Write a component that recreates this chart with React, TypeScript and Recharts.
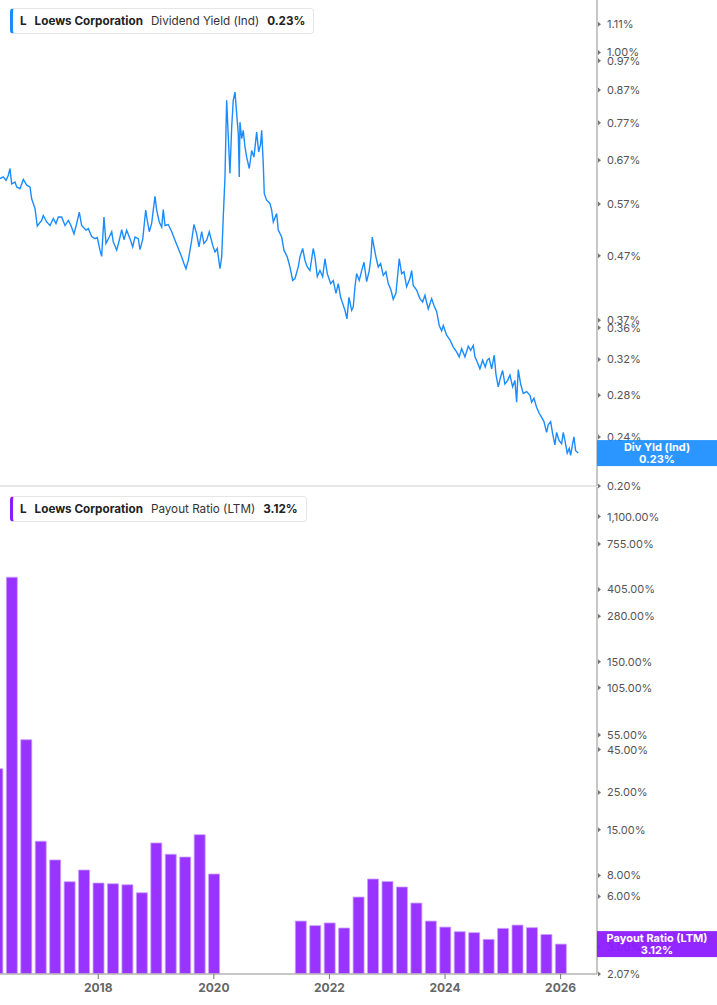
import React from 'react';
import { LineChart, Line, BarChart, Bar, XAxis, YAxis, ReferenceLine } from 'recharts';

// Dividend yield (Ind), % — decimal year / value pairs
const yieldDates = [
  2016.300, 2016.357, 2016.404, 2016.444, 2016.473, 2016.502, 2016.560, 2016.589, 2016.646, 2016.703,
  2016.762, 2016.819, 2016.848, 2016.906, 2016.945, 2017.021, 2017.049, 2017.108, 2017.165, 2017.222,
  2017.269, 2017.309, 2017.367, 2017.425, 2017.482, 2017.528, 2017.580, 2017.627, 2017.672, 2017.713,
  2017.788, 2017.828, 2017.887, 2017.944, 2017.983, 2018.030, 2018.059, 2018.099, 2018.134, 2018.191,
  2018.233, 2018.260, 2018.319, 2018.364, 2018.406, 2018.445, 2018.492, 2018.549, 2018.596, 2018.636,
  2018.693, 2018.722, 2018.769, 2018.821, 2018.848, 2018.883, 2018.924, 2018.952, 2018.982, 2019.011,
  2019.056, 2019.098, 2019.125, 2019.155, 2019.212, 2019.271, 2019.328, 2019.385, 2019.444, 2019.483,
  2019.518, 2019.558, 2019.617, 2019.656, 2019.703, 2019.743, 2019.790, 2019.829, 2019.876, 2019.921,
  2019.980, 2020.020, 2020.059, 2020.106, 2020.136, 2020.163, 2020.193, 2020.210, 2020.222, 2020.250,
  2020.279, 2020.309, 2020.336, 2020.366, 2020.395, 2020.423, 2020.440, 2020.452, 2020.482, 2020.509,
  2020.539, 2020.568, 2020.613, 2020.655, 2020.694, 2020.741, 2020.776, 2020.810, 2020.828, 2020.855,
  2020.873, 2020.914, 2020.971, 2021.001, 2021.029, 2021.087, 2021.115, 2021.174, 2021.213, 2021.271,
  2021.317, 2021.364, 2021.404, 2021.461, 2021.490, 2021.537, 2021.577, 2021.617, 2021.663, 2021.720,
  2021.750, 2021.790, 2021.836, 2021.883, 2021.923, 2021.963, 2022.021, 2022.067, 2022.113, 2022.153,
  2022.194, 2022.229, 2022.269, 2022.303, 2022.338, 2022.385, 2022.413, 2022.442, 2022.471, 2022.516,
  2022.558, 2022.598, 2022.644, 2022.689, 2022.719, 2022.741, 2022.771, 2022.805, 2022.845, 2022.886,
  2022.931, 2022.978, 2023.018, 2023.065, 2023.104, 2023.151, 2023.208, 2023.250, 2023.290, 2023.336,
  2023.393, 2023.423, 2023.450, 2023.509, 2023.566, 2023.613, 2023.653, 2023.710, 2023.769, 2023.809,
  2023.856, 2023.900, 2023.942, 2023.970, 2024.028, 2024.085, 2024.143, 2024.201, 2024.246, 2024.288,
  2024.345, 2024.402, 2024.444, 2024.489, 2024.518, 2024.558, 2024.604, 2024.651, 2024.696, 2024.731,
  2024.765, 2024.807, 2024.852, 2024.881, 2024.921, 2024.963, 2024.997, 2025.037, 2025.084, 2025.124,
  2025.170, 2025.210, 2025.239, 2025.267, 2025.309, 2025.354, 2025.413, 2025.470, 2025.499, 2025.539,
  2025.585, 2025.630, 2025.672, 2025.712, 2025.758, 2025.786, 2025.828, 2025.862, 2025.902, 2025.931,
  2025.971, 2026.018, 2026.046, 2026.075, 2026.115, 2026.150, 2026.174, 2026.208, 2026.231, 2026.260,
  2026.306,
];

const yieldValues = [
  0.626, 0.630, 0.622, 0.634, 0.650, 0.614, 0.618, 0.607, 0.603, 0.624,
  0.611, 0.607, 0.581, 0.560, 0.525, 0.536, 0.546, 0.533, 0.526, 0.540,
  0.530, 0.543, 0.543, 0.526, 0.536, 0.526, 0.510, 0.530, 0.553, 0.526,
  0.517, 0.520, 0.505, 0.501, 0.503, 0.480, 0.469, 0.543, 0.492, 0.504,
  0.514, 0.495, 0.480, 0.498, 0.518, 0.499, 0.517, 0.501, 0.486, 0.504,
  0.501, 0.481, 0.499, 0.557, 0.536, 0.514, 0.530, 0.557, 0.586, 0.557,
  0.533, 0.523, 0.558, 0.526, 0.528, 0.514, 0.498, 0.483, 0.468, 0.457,
  0.448, 0.462, 0.498, 0.528, 0.510, 0.486, 0.514, 0.492, 0.498, 0.514,
  0.489, 0.477, 0.483, 0.448, 0.468, 0.543, 0.630, 0.749, 0.837, 0.731,
  0.638, 0.758, 0.837, 0.863, 0.797, 0.740, 0.630, 0.772, 0.726, 0.749,
  0.704, 0.678, 0.650, 0.695, 0.678, 0.744, 0.691, 0.713, 0.749, 0.662,
  0.592, 0.578, 0.571, 0.557, 0.533, 0.550, 0.517, 0.504, 0.480, 0.468,
  0.451, 0.429, 0.432, 0.451, 0.468, 0.483, 0.462, 0.451, 0.445, 0.483,
  0.468, 0.435, 0.445, 0.435, 0.465, 0.440, 0.424, 0.429, 0.409, 0.424,
  0.403, 0.394, 0.384, 0.372, 0.403, 0.384, 0.389, 0.419, 0.440, 0.429,
  0.445, 0.459, 0.427, 0.445, 0.468, 0.504, 0.486, 0.468, 0.451, 0.457,
  0.437, 0.443, 0.424, 0.414, 0.400, 0.409, 0.465, 0.440, 0.443, 0.419,
  0.432, 0.445, 0.421, 0.414, 0.401, 0.396, 0.406, 0.386, 0.401, 0.391,
  0.382, 0.363, 0.356, 0.363, 0.350, 0.344, 0.335, 0.329, 0.323, 0.333,
  0.323, 0.336, 0.331, 0.337, 0.323, 0.317, 0.309, 0.319, 0.311, 0.319,
  0.321, 0.309, 0.325, 0.303, 0.289, 0.300, 0.307, 0.292, 0.296, 0.302,
  0.289, 0.296, 0.273, 0.308, 0.292, 0.282, 0.284, 0.280, 0.273, 0.277,
  0.268, 0.262, 0.258, 0.254, 0.244, 0.251, 0.254, 0.243, 0.233, 0.244,
  0.237, 0.234, 0.244, 0.237, 0.226, 0.230, 0.224, 0.234, 0.240, 0.228,
  0.226,
];

// Payout ratio (LTM), % — quarterly
const payoutQuarters = [
  '2016Q1', '2016Q2', '2016Q3', '2016Q4', '2017Q1', '2017Q2', '2017Q3', '2017Q4',
  '2018Q1', '2018Q2', '2018Q3', '2018Q4', '2019Q1', '2019Q2', '2019Q3', '2019Q4',
  '2021Q2', '2021Q3', '2021Q4', '2022Q1', '2022Q2', '2022Q3', '2022Q4', '2023Q1',
  '2023Q2', '2023Q3', '2023Q4', '2024Q1', '2024Q2', '2024Q3', '2024Q4', '2025Q1',
  '2025Q2', '2025Q3', '2025Q4',
];
const payoutValues = [
  34.6, 479, 51.5, 12.8, 9.9, 7.34, 8.62, 7.21,
  7.14, 7.04, 6.31, 12.5, 10.7, 10.3, 14.0, 8.16,
  4.28, 4.02, 4.17, 3.89, 5.95, 7.62, 7.37, 6.83,
  5.48, 4.28, 3.94, 3.70, 3.65, 3.33, 3.87, 4.05,
  3.91, 3.56, 3.12,
];

const yieldTicks = [0.2, 0.24, 0.28, 0.32, 0.36, 0.37, 0.47, 0.57, 0.67, 0.77, 0.87, 0.97, 1.0, 1.11];
const payoutTicks = [2.07, 3, 6, 8, 15, 25, 45, 55, 105, 150, 280, 405, 755, 1100];
const yearTicks = [2018, 2020, 2022, 2024, 2026];

const xDomain: [number, number] = [2016.3, 2026.63];
const yieldDomain: [number, number] = [0.2, 1.215];
const payoutDomain: [number, number] = [2.07, 1650];

const yieldData = yieldDates.map((t, i) => ({ t, v: yieldValues[i] }));
const payoutData = payoutQuarters.map((q, i) => ({
  t: Number(q.slice(0, 4)) + Number(q.slice(5)) / 4,
  v: payoutValues[i],
}));

const lastYield = yieldValues[yieldValues.length - 1];
const lastPayout = payoutValues[payoutValues.length - 1];

const BLUE = '#1a8cff';
const PURPLE = '#9933ff';
const AXIS = '#b5b5b5';
const FONT = 'Inter, "Noto Sans", sans-serif';

const fmtYield = (v: number) => `${v.toFixed(2)}%`;
const fmtPayout = (v: number) =>
  `${v.toLocaleString('en-US', { minimumFractionDigits: 2, maximumFractionDigits: 2 })}%`;

const RightTick = (props: any) => {
  const { x, y, payload, fmt } = props;
  return (
    <g>
      <path d={`M${x + 1},${y - 2.5} L${x + 4},${y} L${x + 1},${y + 2.5} Z`} fill="#777" />
      <text x={x + 10} y={y} dy={4} fontSize={11} fill="#555" fontFamily={FONT}>
        {fmt(payload.value)}
      </text>
    </g>
  );
};

const badge = (color: string, title: string, value: string) => (props: any) => {
  const vb = props.viewBox || {};
  const left = (vb.x || 0) + (vb.width || 0);
  const cy = vb.y || 0;
  return (
    <g>
      <rect x={left} y={cy - 13} width={120} height={26} fill={color} fillOpacity={0.94} />
      <text x={left + 60} y={cy - 2} textAnchor="middle" fontSize={11} fontWeight={700} fill="#fff" fontFamily={FONT}>
        {title}
      </text>
      <text x={left + 60} y={cy + 10} textAnchor="middle" fontSize={11} fontWeight={700} fill="#fff" fontFamily={FONT}>
        {value}
      </text>
    </g>
  );
};

// transparent chart on top of a panel, sharing its y scale, so the last-value tag covers the tick labels
const BadgeOverlay = ({ top, height, bottom, domain, value, color, title, text }: any) => (
  <div style={{ position: 'absolute', left: 0, top }}>
    <LineChart
      width={717}
      height={height}
      data={[{ t: 0, v: value }]}
      margin={{ top: 0, right: 120, bottom, left: 0 }}
    >
      <XAxis dataKey="t" hide />
      <YAxis hide type="number" scale="log" domain={domain} allowDataOverflow />
      <ReferenceLine y={value} stroke="none" ifOverflow="visible" label={badge(color, title, text)} />
    </LineChart>
  </div>
);

const Legend = ({ top, color, label, value }: { top: number; color: string; label: string; value: string }) => (
  <div
    style={{
      position: 'absolute',
      left: 10,
      top,
      height: 24,
      display: 'flex',
      alignItems: 'center',
      background: '#fff',
      border: '1px solid #e6e6e6',
      borderLeft: `3px solid ${color}`,
      borderRadius: 4,
      padding: '0 8px 0 7px',
      fontFamily: FONT,
      fontSize: 11.7,
      color: '#222',
      whiteSpace: 'nowrap',
    }}
  >
    <b style={{ marginRight: 8 }}>L</b>
    <b style={{ marginRight: 8 }}>Loews Corporation</b>
    <span style={{ marginRight: 8, color: '#333' }}>{label}</span>
    <b>{value}</b>
  </div>
);

export default function App() {
  return (
    <div style={{ position: 'absolute', left: 0, top: 0, width: 717, height: 1005, background: '#fff' }}>
      <div style={{ position: 'absolute', left: 0, top: 487 }}>
        <BarChart width={717} height={518} data={payoutData} margin={{ top: 0, right: 0, bottom: 0, left: 0 }}>
          <XAxis
            dataKey="t"
            type="number"
            domain={xDomain}
            allowDataOverflow
            ticks={yearTicks}
            interval={0}
            height={31}
            tickSize={5}
            tickMargin={4}
            tickLine={{ stroke: '#777' }}
            axisLine={{ stroke: AXIS, strokeWidth: 1.5 }}
            tick={{ fontSize: 12, fontWeight: 700, fill: '#666', fontFamily: FONT }}
          />
          <YAxis
            orientation="right"
            width={120}
            type="number"
            scale="log"
            domain={payoutDomain}
            allowDataOverflow
            ticks={payoutTicks}
            interval={0}
            tickSize={0}
            tickMargin={0}
            tickLine={false}
            axisLine={{ stroke: AXIS, strokeWidth: 1.5 }}
            tick={<RightTick fmt={fmtPayout} />}
          />
          <Bar
            dataKey="v"
            barSize={11}
            fill={PURPLE}
            stroke="#c9a2ff"
            strokeWidth={0.8}
            isAnimationActive={false}
          />
        </BarChart>
      </div>
      <div style={{ position: 'absolute', left: 0, top: 0 }}>
        {/* taller than the panel so the 0.20% label below the plot is not cut */}
        <LineChart width={717} height={500} data={yieldData} margin={{ top: 0, right: 0, bottom: 13, left: 0 }}>
          <XAxis
            dataKey="t"
            type="number"
            domain={xDomain}
            allowDataOverflow
            ticks={yearTicks}
            tick={false}
            tickLine={false}
            height={1}
            axisLine={{ stroke: '#cfcfcf' }}
          />
          <YAxis
            orientation="right"
            width={120}
            type="number"
            scale="log"
            domain={yieldDomain}
            allowDataOverflow
            ticks={yieldTicks}
            interval={0}
            tickSize={0}
            tickMargin={0}
            tickLine={false}
            axisLine={{ stroke: AXIS, strokeWidth: 1.5 }}
            tick={<RightTick fmt={fmtYield} />}
          />
          <Line
            type="linear"
            dataKey="v"
            stroke={BLUE}
            strokeWidth={1.4}
            dot={false}
            isAnimationActive={false}
          />
        </LineChart>
      </div>
      <BadgeOverlay
        top={0}
        height={500}
        bottom={14}
        domain={yieldDomain}
        value={lastYield}
        color="#1e8fff"
        title="Div Yld (Ind)"
        text={fmtYield(lastYield)}
      />
      <BadgeOverlay
        top={487}
        height={518}
        bottom={31}
        domain={payoutDomain}
        value={lastPayout}
        color="#8c1aff"
        title="Payout Ratio (LTM)"
        text={fmtYield(lastPayout)}
      />
      <Legend top={8} color={BLUE} label="Dividend Yield (Ind)" value="0.23%" />
      <Legend top={496} color="#8c1aff" label="Payout Ratio (LTM)" value="3.12%" />
    </div>
  );
}
